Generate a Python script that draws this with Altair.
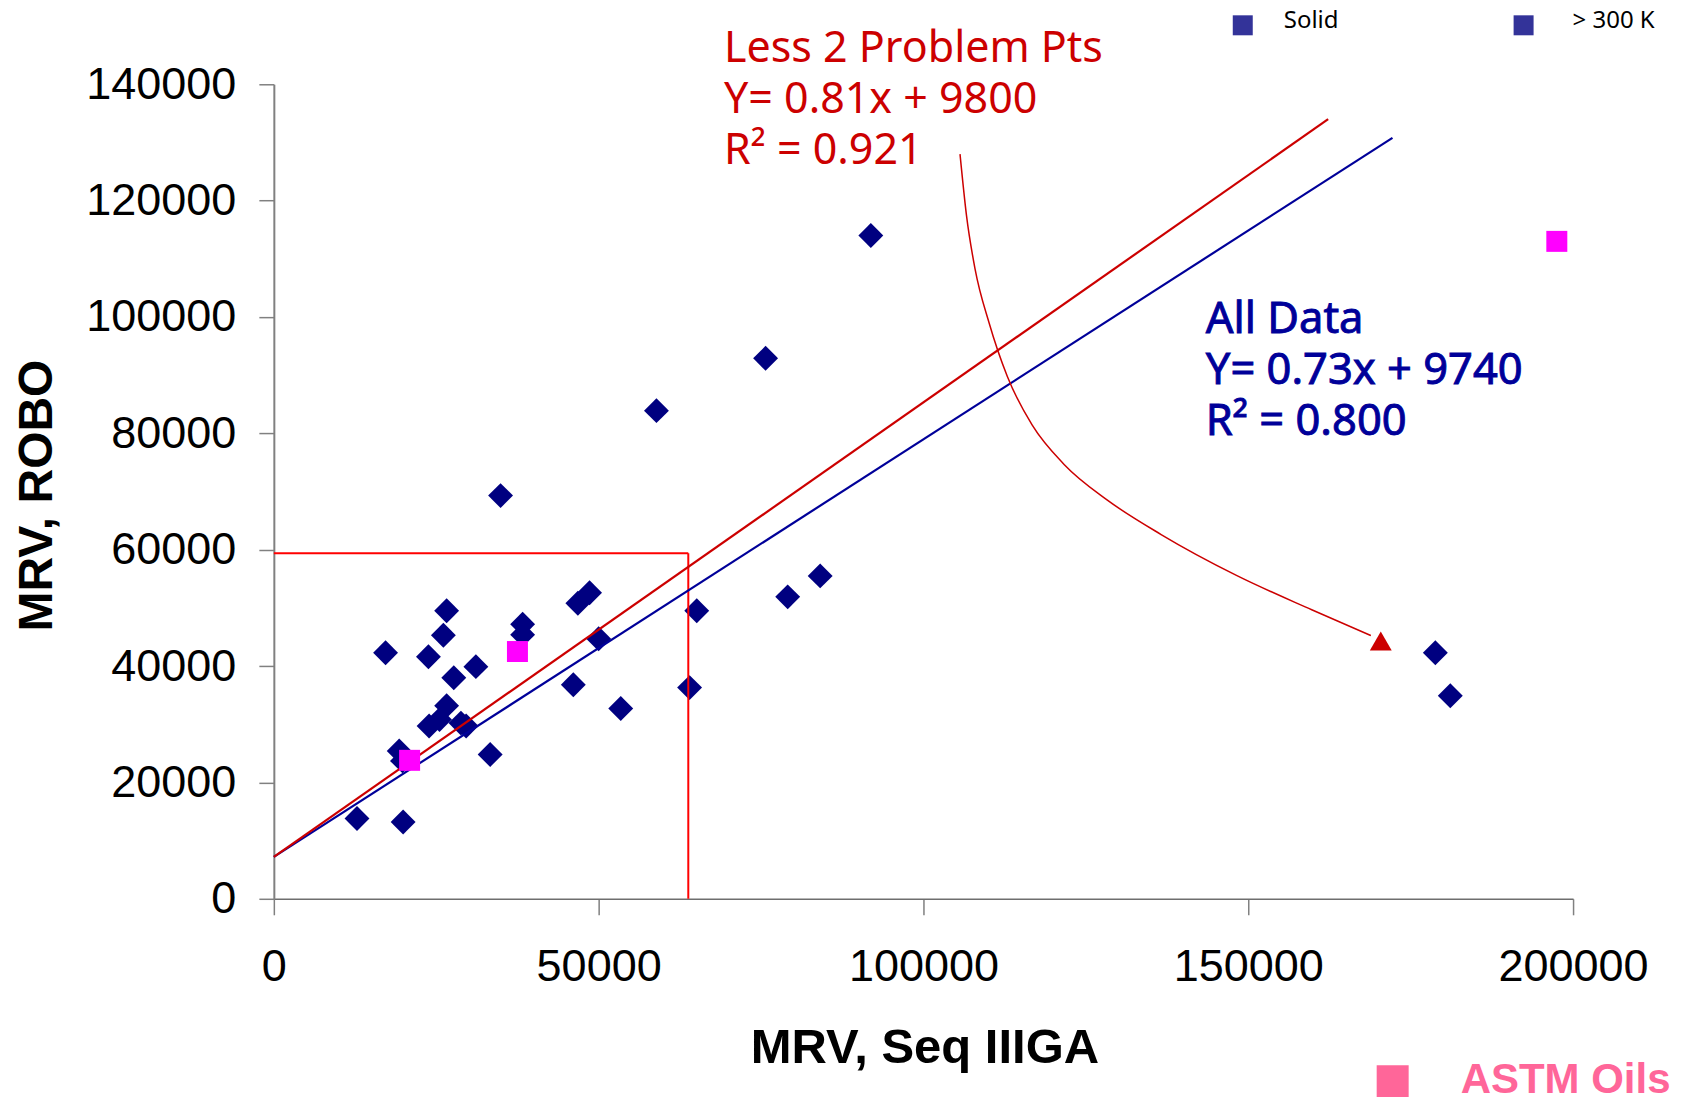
import altair as alt
import pandas as pd

# ---- data ----
navy_x = [91900, 75700, 58900, 34900, 17200, 26600, 26100, 23800, 31100, 27700,
          38300, 38300, 46800, 48600, 50000, 65100, 46100, 53400, 64000, 26600,
          23900, 25500, 28800, 29600, 19300, 19800, 33300, 12800, 19900, 79100,
          84100, 178800, 181100]
navy_y = [114000, 92900, 83900, 69300, 42300, 49500, 45300, 41600, 39900, 38000,
          47200, 45400, 50800, 52600, 44700, 49500, 36800, 32700, 36300, 33200,
          29700, 30800, 30200, 29700, 25400, 23700, 24800, 13800, 13200, 51900,
          55500, 42300, 34900]
astm_x = [20900, 37500, 197500]
astm_y = [23800, 42500, 113000]

# trend lines (end points as drawn)
all_x = [0, 172200]
all_y = [7200, 130800]
less2_x = [0, 162300]
less2_y = [7200, 134000]

# red box
box_x = 63800
box_y = 59400

# curved arrow path
arrow_x = [105629, 106623, 107947, 110099, 112914, 116722, 121689, 128311,
           136589, 148179, 159768, 168874]
arrow_y = [127995, 117467, 108232, 98997, 89763, 81451, 74617, 68522,
           62612, 55594, 49683, 45251]
arrow_tip = (170400, 44300)

x_ticks = [0, 50000, 100000, 150000, 200000]
y_ticks = [0, 20000, 40000, 60000, 80000, 100000, 120000, 140000]

red_text = ["Less 2 Problem Pts", "Y= 0.81x + 9800", "R\u00b2 = 0.921"]
blue_text = ["All Data", "Y= 0.73x + 9740", "R\u00b2 = 0.800"]

# annotation anchors (data units)
red_text_pos = (69300, 143780)
blue_text_pos = (143462, 97227)
solid_sq = (149154, 150136)
solid_txt = (155462, 149620)
k300_sq = (192385, 150136)
k300_txt = (199923, 149620)
astm_sq = (172231, -31350)
astm_txt = (182692, -33325)

xs = alt.Scale(domain=[0, 200000], nice=False, zero=False)
ys = alt.Scale(domain=[0, 140000], nice=False, zero=False)

x_axis = alt.Axis(values=x_ticks, format="d", title="MRV, Seq IIIGA",
                  labelFont="Liberation Sans", labelFontSize=45, labelColor="black",
                  labelBaseline="alphabetic", labelPadding=66, labelOverlap=False,
                  labelFlush=False, tickSize=16,
                  titleFont="Liberation Sans", titleFontSize=49, titleFontWeight="bold",
                  titleColor="black", titleX=651, titleY=164, titleAlign="center",
                  titleBaseline="alphabetic", domainColor="#6e6e6e", domainWidth=1.5)
y_axis = alt.Axis(values=y_ticks, format="d", title="MRV, ROBO",
                  labelFont="Liberation Sans", labelFontSize=45, labelColor="black",
                  labelPadding=23, labelOverlap=False, labelFlush=False, tickSize=15,
                  titleFont="Liberation Sans Narrow, Liberation Sans", titleFontSize=48,
                  titleFontWeight="bold", titleColor="black", titleAngle=270,
                  titleX=-222, titleY=411, titleAlign="center",
                  titleBaseline="alphabetic", domainColor="#808080", domainWidth=2)


def X():
    return alt.X("x:Q", scale=xs, axis=x_axis)


def Y():
    return alt.Y("y:Q", scale=ys, axis=y_axis)


def df(xv, yv):
    return pd.DataFrame({"x": list(xv), "y": list(yv)})


navy = alt.Chart(df(navy_x, navy_y)).mark_point(
    shape="diamond", filled=True, size=620, color="#000080", opacity=1
).encode(x=X(), y=Y())

line_all = alt.Chart(df(all_x, all_y)).mark_line(
    color="#000099", strokeWidth=2.2, clip=False).encode(x=X(), y=Y())
line_less = alt.Chart(df(less2_x, less2_y)).mark_line(
    color="#CC0000", strokeWidth=2.2, clip=False).encode(x=X(), y=Y())

box_h = alt.Chart(pd.DataFrame({"x": [0], "x2": [box_x], "y": [box_y]})).mark_rule(
    color="#FF0000", strokeWidth=2).encode(x=X(), x2="x2:Q", y=Y())
box_v = alt.Chart(pd.DataFrame({"x": [box_x], "y": [0], "y2": [box_y]})).mark_rule(
    color="#FF0000", strokeWidth=2).encode(x=X(), y=Y(), y2="y2:Q")

astm = alt.Chart(df(astm_x, astm_y)).mark_point(
    shape="square", filled=True, size=441, color="#FF00FF", opacity=1
).encode(x=X(), y=Y())

arrow = alt.Chart(df(arrow_x, arrow_y)).mark_line(
    color="#CC0000", strokeWidth=1.5, interpolate="monotone").encode(x=X(), y=Y())
tip = alt.Chart(df([arrow_tip[0]], [arrow_tip[1]])).mark_point(
    shape="triangle-up", filled=True, size=480, color="#CC0000", opacity=1
).encode(x=X(), y=Y())

red_lbl = alt.Chart(df([red_text_pos[0]], [red_text_pos[1]])).mark_text(
    text=red_text, font="Noto Sans", fontSize=43, color="#CC0000", align="left",
    baseline="alphabetic", lineHeight=51).encode(x=X(), y=Y())
blue_lbl = alt.Chart(df([blue_text_pos[0]], [blue_text_pos[1]])).mark_text(
    text=blue_text, font="Noto Sans", fontSize=43.5, color="#000099", align="left",
    baseline="alphabetic", lineHeight=51, stroke="#000099", strokeWidth=0.9
).encode(x=X(), y=Y())

leg_sq = alt.Chart(df([solid_sq[0], k300_sq[0]], [solid_sq[1], k300_sq[1]])).mark_point(
    shape="square", filled=True, size=400, color="#333399", opacity=1
).encode(x=X(), y=Y())
leg_solid = alt.Chart(df([solid_txt[0]], [solid_txt[1]])).mark_text(
    text="Solid", font="Noto Sans", fontSize=24, color="black", align="left",
    baseline="alphabetic").encode(x=X(), y=Y())
leg_300 = alt.Chart(df([k300_txt[0]], [k300_txt[1]])).mark_text(
    text="> 300 K", font="Noto Sans", fontSize=24, color="black", align="left",
    baseline="alphabetic").encode(x=X(), y=Y())

astm_sq_m = alt.Chart(df([astm_sq[0]], [astm_sq[1]])).mark_point(
    shape="square", filled=True, size=1024, color="#FF6699", opacity=1
).encode(x=X(), y=Y())
astm_lbl = alt.Chart(df([astm_txt[0]], [astm_txt[1]])).mark_text(
    text="ASTM Oils", font="Liberation Sans", fontSize=42, fontWeight="bold",
    color="#FF6699", align="left", baseline="alphabetic").encode(x=X(), y=Y())

chart = alt.layer(
    navy, box_h, box_v, line_all, line_less, astm, arrow, tip,
    red_lbl, blue_lbl, leg_sq, leg_solid, leg_300, astm_sq_m, astm_lbl
).properties(
    width=1300, height=815,
    autosize=alt.AutoSizeParams(type="none"),
    padding={"left": 266, "top": 76, "right": 106, "bottom": 198},
    background="white",
).configure_axis(
    grid=False, tickColor="#808080", tickWidth=1.5
).configure_view(stroke=None)

chart.save("out.html", embed_options={"renderer": "svg", "actions": False})
